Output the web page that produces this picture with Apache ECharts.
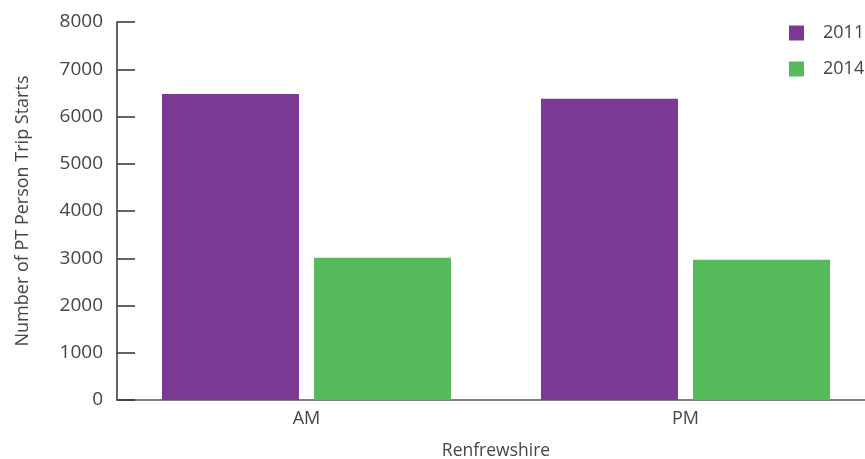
<!DOCTYPE html>
<html><head><meta charset="utf-8">
<script src="https://cdn.jsdelivr.net/npm/echarts@6/dist/echarts.min.js"></script>
<style>html,body{margin:0;padding:0;background:#fff}#c{width:865px;height:459px}</style>
</head><body><div id="c"></div>
<script>
const categories = ['AM', 'PM'];
const seriesNames = ['2011', '2014'];
const values2011 = [6476, 6377];
const values2014 = [3012, 2969];
const yTicks = [0, 1000, 2000, 3000, 4000, 5000, 6000, 7000, 8000];

const FONT = '"Open Sans", sans-serif';
const TXT = '#454545';
const chart = echarts.init(document.getElementById('c'), null, {renderer: 'canvas'});
chart.setOption({
  animation: false,
  backgroundColor: '#fff',
  textStyle: {fontFamily: FONT},
  grid: {left: 117, right: -10, top: 22, bottom: 59, containLabel: false, outerBoundsMode: 'none'},
  legend: {
    orient: 'vertical', left: 789, top: 24, padding: 0,
    itemWidth: 15, itemHeight: 15, itemGap: 18,
    icon: 'rect',
    textStyle: {fontFamily: FONT, fontSize: 18, color: TXT, lineHeight: 15, padding: [0, 0, 0, 14]},
    data: seriesNames
  },
  xAxis: {
    type: 'category', data: categories,
    name: 'Renfrewshire', nameLocation: 'middle', nameGap: 42,
    nameTextStyle: {fontFamily: FONT, fontSize: 17.5, color: TXT},
    axisLine: {lineStyle: {color: '#555', width: 1.5}},
    axisTick: {inside: true, length: 9, lineStyle: {color: '#555'}},
    axisLabel: {fontFamily: FONT, fontSize: 18, color: TXT, margin: 10}
  },
  yAxis: {
    type: 'value', min: 0, max: yTicks[yTicks.length - 1], interval: 1000,
    name: 'Number of PT Person Trip Starts', nameLocation: 'middle', nameGap: 85,
    nameTextStyle: {fontFamily: FONT, fontSize: 18, color: TXT},
    axisLine: {show: true, lineStyle: {color: '#333', width: 1.5}},
    axisTick: {show: true, inside: true, length: 18, lineStyle: {color: '#333', width: 1.5}},
    splitLine: {show: false},
    axisLabel: {fontFamily: FONT, fontSize: 19, color: TXT, margin: 14, formatter: v => String(v)}
  },
  series: [
    {name: seriesNames[0], type: 'bar', data: values2011, barWidth: 137, barGap: '11%', itemStyle: {color: '#7B3993'}},
    {name: seriesNames[1], type: 'bar', data: values2014, barWidth: 137, barGap: '11%', itemStyle: {color: '#56BA5C'}}
  ]
});
</script></body></html>
